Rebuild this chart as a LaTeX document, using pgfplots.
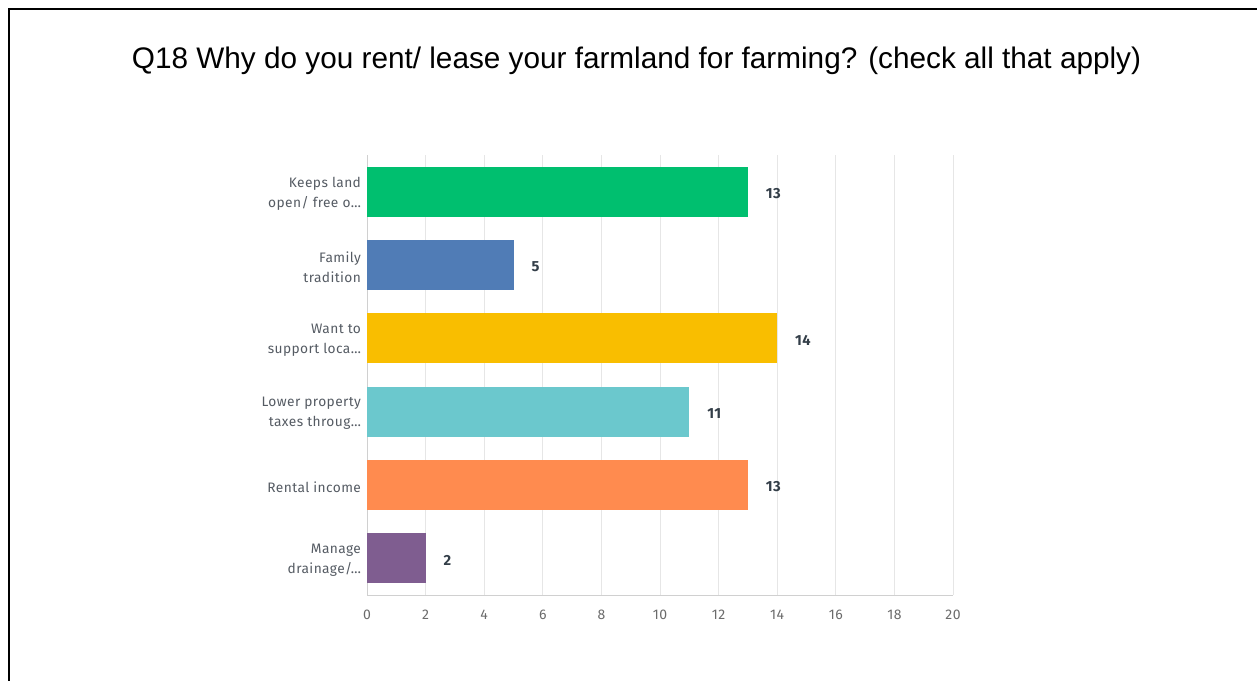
\documentclass[border=0pt]{standalone}
\usepackage{pgfplots}
\pgfplotsset{compat=1.18}
\usepackage{fontspec}
\setmainfont{Liberation Sans}
\newfontfamily\labfont[LetterSpace=3]{Fira Sans}
\definecolor{cgreen}{HTML}{00BF6F}
\definecolor{cblue}{HTML}{507CB6}
\definecolor{cyellow}{HTML}{F9BE00}
\definecolor{cteal}{HTML}{6BC8CD}
\definecolor{corange}{HTML}{FF8B4F}
\definecolor{cpurple}{HTML}{7F5D90}
\definecolor{ticklab}{HTML}{6B6B6B}
\definecolor{catlab}{HTML}{555B63}
\definecolor{vallab}{HTML}{333E48}
\definecolor{gridc}{HTML}{E6E6E6}
\definecolor{axisc}{HTML}{D0D0D0}
\begin{document}
\begin{tikzpicture}[x=1pt,y=1pt]
\useasboundingbox (0,0) rectangle (942.75,510.75);
\draw[line width=1.5pt] (6.75,0) -- (6.75,504) -- (943.5,504);
\node[anchor=center] at (477.4,465) {\fontsize{22.3}{26}\selectfont Q18 Why do you rent/ lease your farmland for farming? (check all that apply)};
\begin{axis}[
  at={(275.25pt,64.5pt)}, anchor=south west,
  scale only axis, width=439.5pt, height=330pt,
  xmin=0, xmax=20, ymin=-0.5, ymax=5.5, y dir=reverse,
  xtick={0,2,...,20}, ytick={0,1,2,3,4,5},
  yticklabels={{Keeps land\\open/ free o…},{Family\\tradition},{Want to\\support loca…},{Lower property\\taxes throug…},{Rental income},{Manage\\drainage/…}},
  xmajorgrids, grid style={draw=gridc, line width=0.75pt},
  axis x line*=bottom, axis y line*=left,
  axis line style={draw=axisc, line width=0.75pt, -},
  major tick length=0pt,
  /pgf/number format/assume math mode=true,
  xticklabel style={font=\labfont\fontsize{10.5}{12}\selectfont, text=ticklab, yshift=-8pt},
  yticklabel style={font=\labfont\fontsize{10.3}{15}\selectfont, text=catlab, align=right, xshift=-1pt, yshift=-1.5pt},
  xbar, bar shift=0pt, bar width=37.5pt,
  nodes near coords,
  every node near coord/.append style={font=\labfont\fontsize{11}{12}\selectfont\bfseries, text=vallab, anchor=west, xshift=10pt, yshift=-1.5pt},
]
\addplot[draw=none, fill=cgreen] coordinates {(13,0)};
\addplot[draw=none, fill=cblue] coordinates {(5,1)};
\addplot[draw=none, fill=cyellow] coordinates {(14,2)};
\addplot[draw=none, fill=cteal] coordinates {(11,3)};
\addplot[draw=none, fill=corange] coordinates {(13,4)};
\addplot[draw=none, fill=cpurple] coordinates {(2,5)};
\end{axis}
\end{tikzpicture}
\end{document}
